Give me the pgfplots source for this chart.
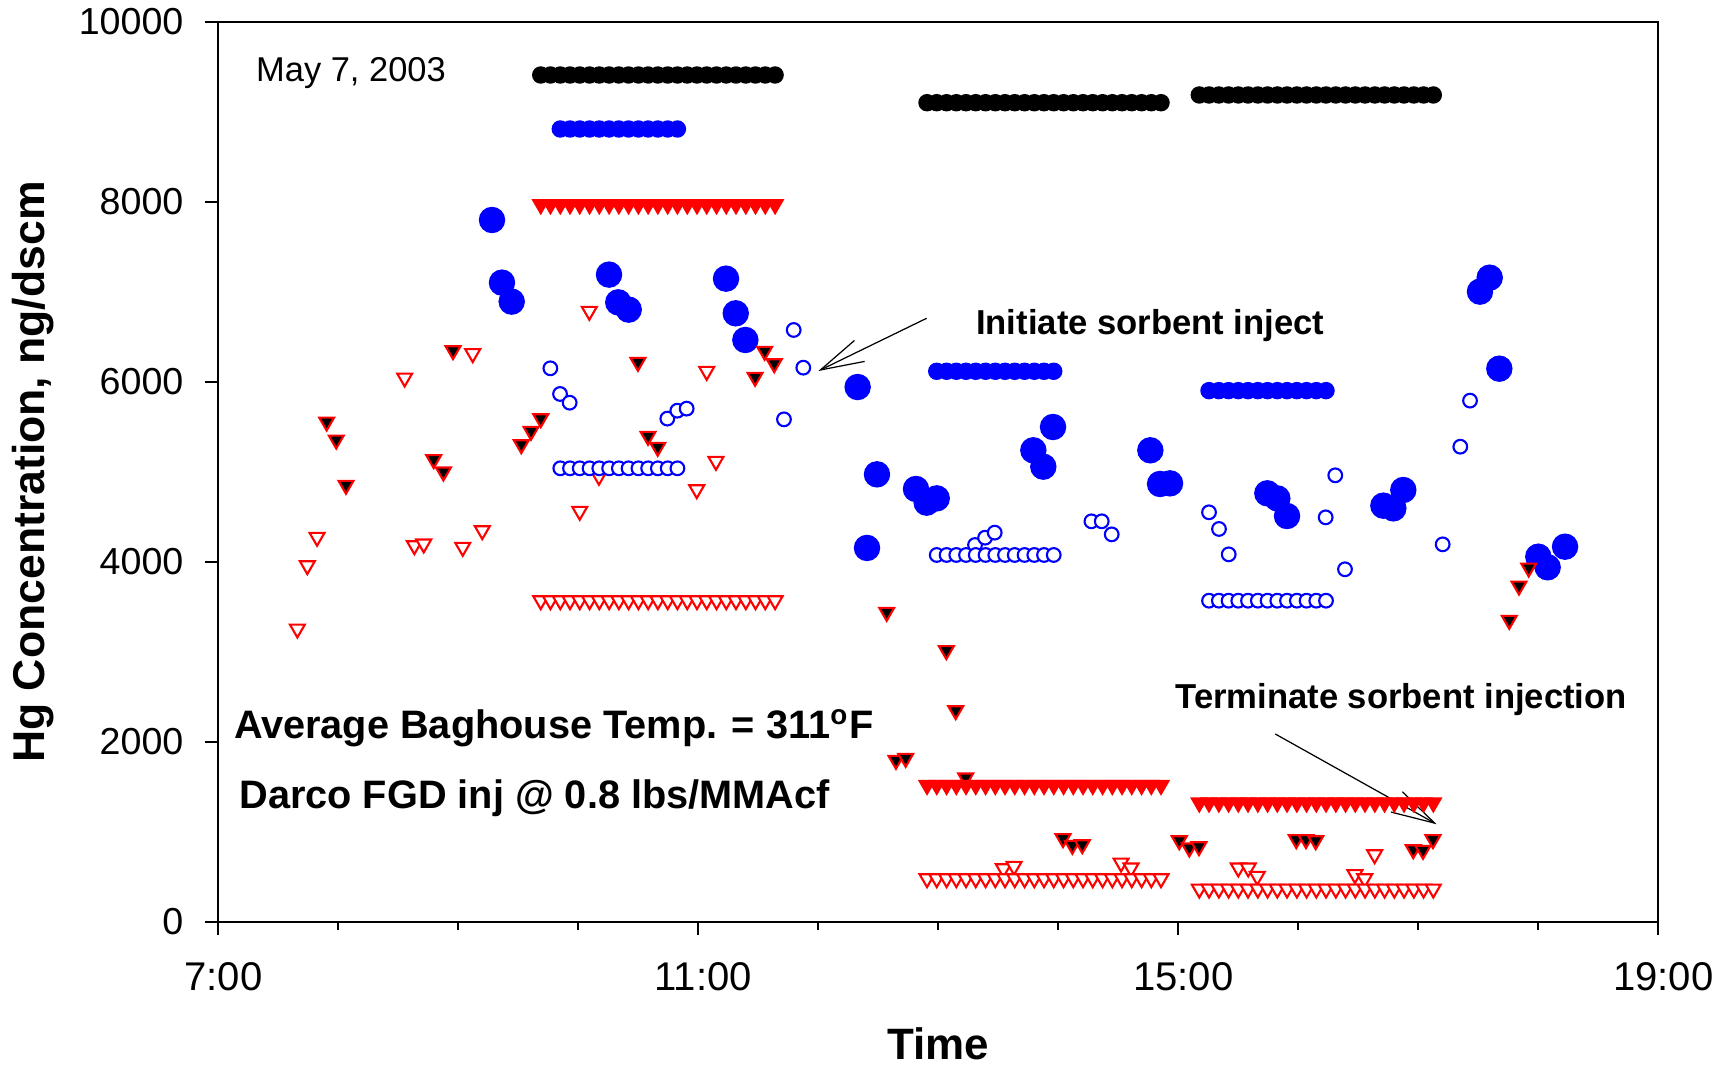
\documentclass[border=0pt]{standalone}
\usepackage{fontspec}
\setmainfont{Liberation Sans}
\usepackage{pgfplots}
\pgfplotsset{compat=1.18}
\usepackage{pgfplotstable}
\usetikzlibrary{arrows.meta}

% averaged rows: t, total Hg (black), blue filled, blue open, red filled, red open
\pgfplotstableread{
t      blk   bf    bo    rf    ro
9.687  9411  nan   nan   7948  3548
9.768  9411  nan   nan   7948  3548
9.850  9411  8811  5041  7948  3548
9.931  9411  8811  5041  7948  3548
10.012 9411  8811  5041  7948  3548
10.094 9411  8811  5041  7948  3548
10.175 9411  8811  5041  7948  3548
10.257 9411  8811  5041  7948  3548
10.338 9411  8811  5041  7948  3548
10.419 9411  8811  5041  7948  3548
10.501 9411  8811  5041  7948  3548
10.582 9411  8811  5041  7948  3548
10.663 9411  8811  5041  7948  3548
10.745 9411  8811  5041  7948  3548
10.826 9411  8811  5041  7948  3548
10.908 9411  nan   nan   7948  3548
10.989 9411  nan   nan   7948  3548
11.070 9411  nan   nan   7948  3548
11.152 9411  nan   nan   7948  3548
11.233 9411  nan   nan   7948  3548
11.314 9411  nan   nan   7948  3548
11.396 9411  nan   nan   7948  3548
11.477 9411  nan   nan   7948  3548
11.558 9411  nan   nan   7948  3548
11.640 9411  nan   nan   7948  3548
}\periodA

\pgfplotstableread{
t      blk   bf    bo    rf    ro
12.906 9103  nan   nan   1497  459
12.987 9103  6119  4078  1497  459
13.069 9103  6119  4078  1497  459
13.150 9103  6119  4078  1497  459
13.231 9103  6119  4078  1497  459
13.312 9103  6119  4078  1497  459
13.394 9103  6119  4078  1497  459
13.475 9103  6119  4078  1497  459
13.556 9103  6119  4078  1497  459
13.637 9103  6119  4078  1497  459
13.719 9103  6119  4078  1497  459
13.800 9103  6119  4078  1497  459
13.881 9103  6119  4078  1497  459
13.962 9103  6119  4078  1497  459
14.044 9103  nan   nan   1497  459
14.125 9103  nan   nan   1497  459
14.206 9103  nan   nan   1497  459
14.287 9103  nan   nan   1497  459
14.369 9103  nan   nan   1497  459
14.450 9103  nan   nan   1497  459
14.531 9103  nan   nan   1497  459
14.612 9103  nan   nan   1497  459
14.694 9103  nan   nan   1497  459
14.775 9103  nan   nan   1497  459
14.856 9103  nan   nan   1497  459
}\periodB

\pgfplotstableread{
t      blk   bf    bo    rf    ro
15.175 9189  nan   nan   1302  344
15.256 9189  5904  3570  1302  344
15.338 9189  5904  3570  1302  344
15.419 9189  5904  3570  1302  344
15.500 9189  5904  3570  1302  344
15.581 9189  5904  3570  1302  344
15.663 9189  5904  3570  1302  344
15.744 9189  5904  3570  1302  344
15.825 9189  5904  3570  1302  344
15.906 9189  5904  3570  1302  344
15.988 9189  5904  3570  1302  344
16.069 9189  5904  3570  1302  344
16.150 9189  5904  3570  1302  344
16.231 9189  5904  3570  1302  344
16.313 9189  nan   nan   1302  344
16.394 9189  nan   nan   1302  344
16.475 9189  nan   nan   1302  344
16.556 9189  nan   nan   1302  344
16.638 9189  nan   nan   1302  344
16.719 9189  nan   nan   1302  344
16.800 9189  nan   nan   1302  344
16.881 9189  nan   nan   1302  344
16.963 9189  nan   nan   1302  344
17.044 9189  nan   nan   1302  344
17.125 9189  nan   nan   1302  344
}\periodC

\tikzset{
  bigdot/.style={only marks, mark=*, mark size=3.56pt, mark options={draw=blue, fill=blue}},
  rowdot/.style={only marks, mark=*, mark size=2.28pt, mark options={draw=#1, fill=#1}},
  opendot/.style={only marks, mark=*, mark size=1.95pt, mark options={draw=blue, fill=white, line width=0.6pt}},
  downtri/.style 2 args={only marks, mark=triangle*, mark size=2.45pt,
    mark options={yshift=0.61pt, rotate=180, draw=#1, fill=#2, line width=0.6pt}},
}

\begin{document}
\begin{tikzpicture}
\begin{axis}[
  scale only axis, width=144mm, height=90mm,
  at={(0,0)}, anchor=south west,
  xmin=7, xmax=19, ymin=0, ymax=10000,
  xtick={7,11,15,19}, xticklabels={7:00,11:00,15:00,19:00},
  minor xtick={8,9,10,12,13,14,16,17,18},
  ytick={0,2000,4000,6000,8000,10000},
  scaled y ticks=false,
  tick align=outside, tick pos=left,
  major tick length=1.3mm, minor tick length=0.8mm,
  every tick/.append style={black, line width=0.5pt},
  axis line style={line width=0.6pt},
  xticklabel style={font=\fontsize{11.4}{13}\selectfont, yshift=-1.5mm, xshift=0.5mm},
  yticklabel style={font=\fontsize{10.7}{13}\selectfont, xshift=-0.95mm},
  /pgf/number format/assume math mode=true,
  /pgf/number format/1000 sep={},
  xlabel={Time}, ylabel={Hg Concentration, ng/dscm},
  xlabel style={font=\fontsize{12.5}{15}\selectfont\bfseries,
    at={(axis description cs:0.5,-0.1533)}, anchor=base},
  ylabel style={font=\fontsize{12.67}{15}\selectfont\bfseries,
    at={(axis description cs:-0.1208,0.5)}, anchor=base},
  clip=false,
]
% blue filled, individual readings
\addplot[bigdot] coordinates {
  (9.281,7800) (9.364,7104) (9.445,6893) (10.256,7193) (10.333,6885) (10.42,6804)
  (11.231,7148) (11.312,6763) (11.392,6467) (12.328,5944) (12.406,4156) (12.489,4974)
  (12.814,4811) (12.903,4659) (12.987,4707) (13.792,5241) (13.875,5059) (13.956,5500)
  (14.767,5241) (14.848,4867) (14.931,4874) (15.742,4763) (15.825,4707) (15.906,4511)
  (16.709,4626) (16.792,4596) (16.875,4800) (17.514,7004) (17.595,7159) (17.675,6148)
  (18.0,4059) (18.078,3941) (18.223,4170)
};
% red open, individual readings
\addplot[downtri={red}{white}] coordinates {
  (7.659,3233) (7.742,3937) (7.823,4252) (8.553,6022) (8.634,4159) (8.712,4178)
  (9.037,4141) (9.12,6293) (9.2,4326) (10.012,4541) (10.092,6763) (10.172,4930)
  (10.987,4781) (11.07,6096) (11.147,5096) (13.542,570) (13.631,596) (14.523,633)
  (14.606,578) (15.5,578) (15.583,578) (15.658,485) (16.472,504) (16.553,459) (16.636,726)
};
\addplot[downtri={red}{white}] table[x=t, y=ro] {\periodA};
\addplot[downtri={red}{white}] table[x=t, y=ro] {\periodB};
\addplot[downtri={red}{white}] table[x=t, y=ro] {\periodC};
% blue open, individual readings
\addplot[opendot] coordinates {
  (9.767,6152) (9.848,5867) (9.928,5770) (10.742,5593) (10.825,5681) (10.903,5704)
  (11.714,5585) (11.795,6578) (11.875,6159) (13.306,4189) (13.39,4270) (13.47,4326)
  (14.276,4452) (14.362,4452) (14.445,4307) (15.256,4552) (15.339,4367) (15.42,4085)
  (16.228,4496) (16.308,4963) (16.389,3919) (17.203,4196) (17.35,5281) (17.431,5793)
};
\addplot[opendot] table[x=t, y=bo] {\periodA};
\addplot[opendot] table[x=t, y=bo] {\periodB};
\addplot[opendot] table[x=t, y=bo] {\periodC};
% black filled triangles, individual readings
\addplot[downtri={red}{black}] coordinates {
  (7.903,5533) (7.983,5333) (8.064,4830) (8.795,5115) (8.876,4978) (8.956,6326)
  (9.525,5281) (9.606,5430) (9.687,5570) (10.497,6196) (10.581,5374) (10.662,5252)
  (11.473,6030) (11.553,6319) (11.633,6181) (12.57,3419) (12.647,1774) (12.728,1796)
  (13.067,2993) (13.145,2326) (13.228,1578) (14.039,904) (14.117,830) (14.2,837)
  (15.008,881) (15.092,800) (15.172,815) (15.983,893) (16.064,893) (16.145,881)
  (16.958,781) (17.039,774) (17.122,893) (17.758,3330) (17.839,3711) (17.92,3911)
};
\addplot[downtri={red}{red}] table[x=t, y=rf] {\periodA};
\addplot[downtri={red}{red}] table[x=t, y=rf] {\periodB};
\addplot[downtri={red}{red}] table[x=t, y=rf] {\periodC};
\addplot[rowdot=blue] table[x=t, y=bf] {\periodA};
\addplot[rowdot=blue] table[x=t, y=bf] {\periodB};
\addplot[rowdot=blue] table[x=t, y=bf] {\periodC};
\addplot[rowdot=black] table[x=t, y=blk] {\periodA};
\addplot[rowdot=black] table[x=t, y=blk] {\periodB};
\addplot[rowdot=black] table[x=t, y=blk] {\periodC};

\node[anchor=base west, inner sep=0pt, font=\fontsize{9.8}{12}\selectfont]
  at (axis cs:7.31,9337) {May 7, 2003};
\node[anchor=base west, inner sep=0pt, font=\fontsize{9.85}{12}\selectfont\bfseries]
  at (axis cs:13.31,6533) {Initiate sorbent inject};
\node[anchor=base west, inner sep=0pt, font=\fontsize{9.85}{12}\selectfont\bfseries]
  at (axis cs:14.97,2374) {Terminate sorbent injection};
\node[anchor=base west, inner sep=0pt, font=\fontsize{11.3}{14}\selectfont\bfseries]
  at (axis cs:7.125,2041) {Average Baghouse Temp. = 311\textsuperscript{o}F};
\node[anchor=base west, inner sep=0pt, font=\fontsize{11.3}{14}\selectfont\bfseries]
  at (axis cs:7.17,1263) {Darco FGD inj @ 0.8 lbs/MMAcf};
\draw[line width=0.35pt, -{Straight Barb[length=4.35mm, width=2.33mm]}]
  (axis cs:12.903,6708) -- (axis cs:12.0,6122);
\draw[line width=0.35pt, -{Straight Barb[length=4.35mm, width=2.33mm]}]
  (axis cs:15.808,2089) -- (axis cs:17.153,1086);
\end{axis}
\pgfresetboundingbox
\useasboundingbox (-21.83mm,-14.3mm) rectangle (151.07mm,92.2mm);
\end{tikzpicture}
\end{document}
